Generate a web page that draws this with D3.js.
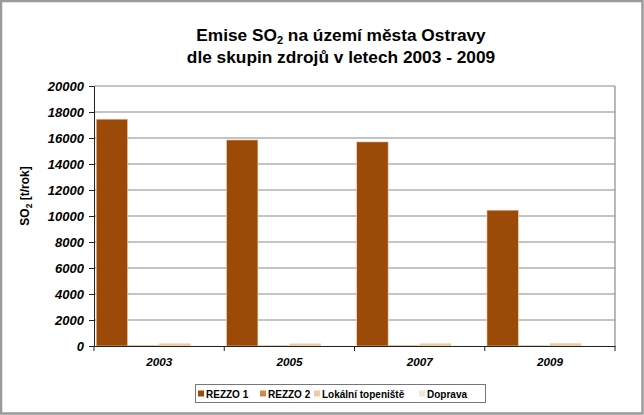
<!DOCTYPE html>
<html><head><meta charset="utf-8">
<script src="https://cdn.jsdelivr.net/npm/d3@7"></script>
<style>html,body{margin:0;padding:0;background:#fff;}svg{display:block;font-family:"Liberation Sans",Arial,sans-serif;}</style>
</head><body>
<script>
const years = ["2003","2005","2007","2009"];
const seriesNames = ["REZZO 1","REZZO 2","Lokální topeniště","Doprava"];
const rezzo1 = [17450, 15850, 15700, 10450];
const rezzo2 = [40, 30, 40, 30];
const lokalni = [200, 190, 200, 210];
const doprava = [20, 20, 20, 20];
const yTicks = [0,2000,4000,6000,8000,10000,12000,14000,16000,18000,20000];
const colors = ["#9C4A08","#D08A45","#EBCBA8","#F4E6D8"];

const W=644,H=415;
const svg=d3.select("body").append("svg").attr("width",W).attr("height",H);
svg.append("rect").attr("x",1).attr("y",1).attr("width",W-2.5).attr("height",H-2.5)
  .attr("fill","#fff").attr("stroke","#9a9a9a").attr("stroke-width",2.5);

const L=94,R=615,T=86,B=346;
const x=d3.scaleBand().domain(years).range([L,R]).paddingInner(0).paddingOuter(0);
const xs=d3.scaleBand().domain(seriesNames).range([0,x.bandwidth()]).paddingInner(0).paddingOuter(0.07);
const y=d3.scaleLinear().domain([0,20000]).range([B,T]);

// gridlines
svg.append("g").selectAll("line").data(yTicks.filter(d=>d>0)).join("line")
  .attr("x1",L).attr("x2",R).attr("y1",d=>y(d)).attr("y2",d=>y(d))
  .attr("stroke","#8a8a8a").attr("stroke-width",1.2);
// right border
svg.append("line").attr("x1",R).attr("x2",R).attr("y1",T).attr("y2",B).attr("stroke","#8a8a8a").attr("stroke-width",1.2);

const data=[rezzo1,rezzo2,lokalni,doprava];
const g=svg.append("g");
years.forEach((yr,i)=>{
  seriesNames.forEach((s,j)=>{
    const v=data[j][i];
    g.append("rect").attr("x",x(yr)+xs(s)).attr("width",xs.bandwidth())
      .attr("y",y(v)).attr("height",B-y(v)).attr("fill",colors[j])
      .attr("stroke",j===0?"#F5D9B8":"none").attr("stroke-width",0.6);
  });
});

// y axis
const yAxis=svg.append("g").attr("transform",`translate(${L},0)`)
  .call(d3.axisLeft(y).tickValues(yTicks).tickSize(5).tickPadding(5).tickFormat(d3.format("d")));
yAxis.select(".domain").attr("stroke","#222");
yAxis.selectAll(".tick line").attr("stroke","#222");
yAxis.selectAll("text").attr("font-size",13).attr("font-weight","bold").attr("font-style","italic").attr("fill","#000")
  .attr("font-family","Liberation Sans, Arial, sans-serif");

// x axis
const xAxis=svg.append("g").attr("transform",`translate(0,${B})`)
  .call(d3.axisBottom(x).tickSize(0).tickPadding(12));
xAxis.select(".domain").attr("stroke","#222");
xAxis.selectAll("text").attr("font-size",11.7).attr("font-weight","bold").attr("font-style","italic").attr("fill","#000")
  .attr("font-family","Liberation Sans, Arial, sans-serif");
svg.append("g").selectAll("line").data(years.map(d=>x(d)).concat([R])).join("line")
  .attr("x1",d=>d).attr("x2",d=>d).attr("y1",B).attr("y2",B+5).attr("stroke","#222");

// title
const title=svg.append("text").attr("x",341).attr("y",41).attr("text-anchor","middle")
  .attr("font-size",17.3).attr("font-weight","bold").attr("fill","#000");
title.append("tspan").text("Emise SO");
title.append("tspan").text("2").attr("font-size",11).attr("dy",3);
title.append("tspan").text(" na území města Ostravy").attr("dy",-3);
svg.append("text").attr("x",341).attr("y",62.5).attr("text-anchor","middle")
  .attr("font-size",17.3).attr("font-weight","bold").attr("fill","#000")
  .text("dle skupin zdrojů v letech 2003 - 2009");

// y label
const yl=svg.append("text").attr("transform","translate(29,196) rotate(-90)").attr("text-anchor","middle")
  .attr("font-size",12).attr("font-weight","bold").attr("fill","#000");
yl.append("tspan").text("SO");
yl.append("tspan").text("2").attr("font-size",8.5).attr("dy",3);
yl.append("tspan").text(" [t/rok]").attr("dy",-3);

// legend
const lg=svg.append("g");
lg.append("rect").attr("x",195.5).attr("y",384.5).attr("width",290).attr("height",18)
  .attr("fill","#fff").attr("stroke","#777").attr("stroke-width",1);
const legX=[198,260,314,419];
seriesNames.forEach((s,j)=>{
  lg.append("rect").attr("x",legX[j]).attr("y",390.5).attr("width",6).attr("height",6).attr("fill",colors[j]);
  lg.append("text").attr("x",legX[j]+8).attr("y",397.5).attr("font-size",10).attr("font-weight","bold").attr("fill","#000").text(s);
});
</script>
</body></html>
